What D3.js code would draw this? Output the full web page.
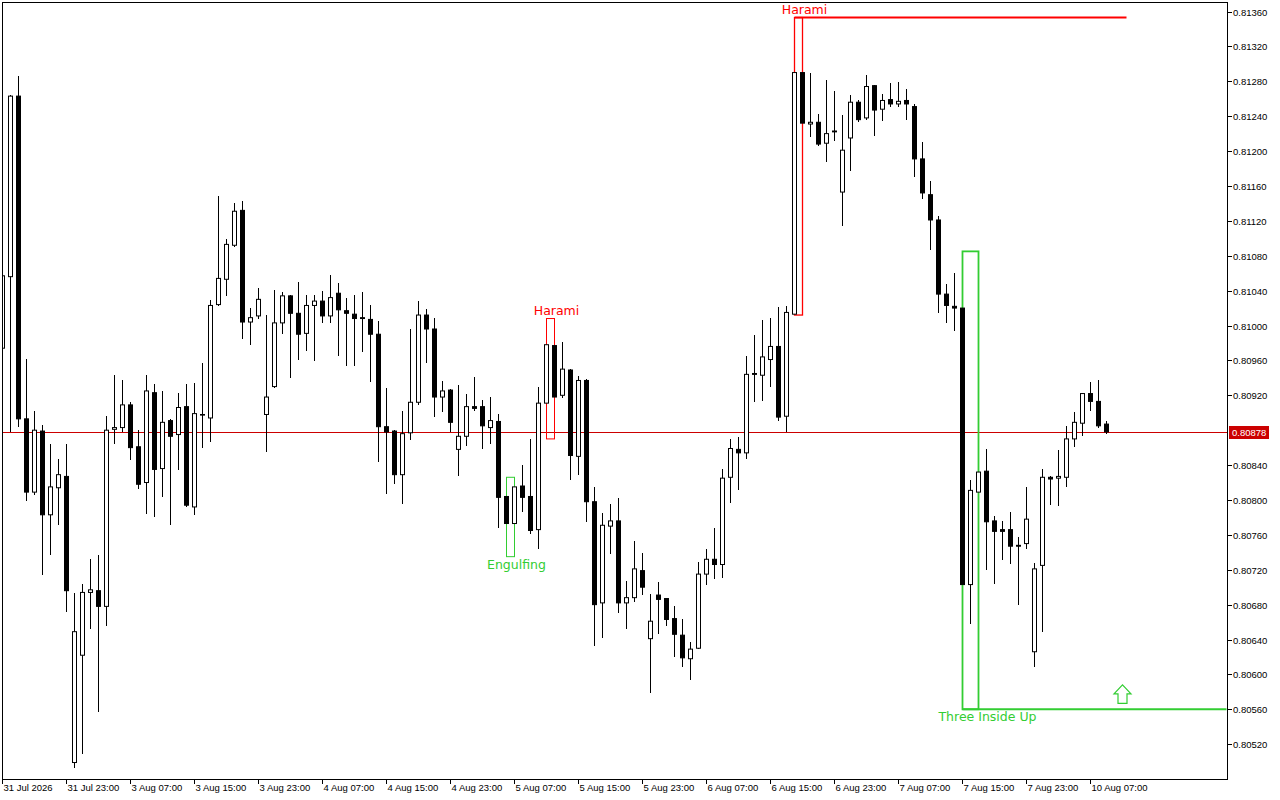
<!DOCTYPE html>
<html><head><meta charset="utf-8">
<script src="https://cdn.jsdelivr.net/npm/d3@7/dist/d3.min.js"></script>
<style>html,body{margin:0;padding:0;background:#fff;overflow:hidden}</style>
</head><body><svg id="c" width="1280" height="800"></svg>
<script>
// ---- data (hourly candles, 31 Jul 2026 15:00 .. 10 Aug 2026 09:00) ----
const openP = [0.80974,0.81056,0.81263,0.80893,0.80809,0.80879,0.80783,0.80814,0.80827,0.80499,
0.80622,0.80694,0.80696,0.80678,0.80881,0.80883,0.80909,0.80861,0.80820,0.80923,
0.80836,0.80891,0.80875,0.80907,0.80792,0.80898,0.80894,0.81024,0.81053,0.81092,
0.81132,0.81004,0.81011,0.80898,0.80930,0.81003,0.81034,0.81014,0.80991,0.81023,
0.81028,0.81011,0.81037,0.81017,0.81013,0.81009,0.81007,0.80990,0.80884,0.80879,
0.80829,0.80877,0.80912,0.81012,0.80996,0.80918,0.80926,0.80858,0.80873,0.80907,
0.80907,0.80883,0.80890,0.80804,0.80773,0.80816,0.80804,0.80766,0.80911,0.80977,
0.80920,0.80949,0.80850,0.80937,0.80798,0.80682,0.80770,0.80776,0.80682,0.80688,
0.80719,0.80641,0.80691,0.80687,0.80664,0.80645,0.80618,0.80630,0.80715,0.80732,
0.80726,0.80826,0.80858,0.80854,0.80945,0.80943,0.80961,0.80976,0.80896,0.81013,
0.81290,0.81231,0.81233,0.81209,0.81223,0.81153,0.81215,0.81256,0.81238,0.81275,
0.81248,0.81259,0.81254,0.81258,0.81251,0.81191,0.81150,0.81121,0.81036,0.81022,
0.81020,0.80703,0.80809,0.80833,0.80776,0.80766,0.80766,0.80748,0.80750,0.80626,
0.80725,0.80826,0.80825,0.80826,0.80870,0.80888,0.80922,0.80913,0.80887];
const highP = [0.81057,0.81264,0.81286,0.80962,0.80902,0.80886,0.80864,0.80847,0.80864,0.80693,
0.80704,0.80732,0.80737,0.80896,0.80943,0.80937,0.80912,0.80880,0.80943,0.80933,
0.80925,0.80893,0.80923,0.80933,0.80934,0.80957,0.81029,0.81149,0.81099,0.81140,
0.81143,0.81020,0.81043,0.81012,0.81041,0.81038,0.81035,0.81050,0.81035,0.81035,
0.81040,0.81058,0.81049,0.81032,0.81035,0.81038,0.81024,0.81005,0.80928,0.80880,
0.80902,0.80996,0.81028,0.81019,0.81009,0.80936,0.80927,0.80932,0.80921,0.80941,
0.80915,0.80918,0.80899,0.80805,0.80826,0.80840,0.80870,0.80930,0.81008,0.80989,
0.80981,0.80950,0.80942,0.80939,0.80815,0.80785,0.80795,0.80802,0.80707,0.80753,
0.80739,0.80692,0.80706,0.80688,0.80679,0.80663,0.80637,0.80729,0.80744,0.80768,
0.80836,0.80870,0.80872,0.80965,0.80989,0.81006,0.81009,0.81021,0.81022,0.81353,
0.81307,0.81290,0.81243,0.81281,0.81269,0.81241,0.81264,0.81258,0.81287,0.81276,
0.81265,0.81278,0.81279,0.81271,0.81254,0.81210,0.81166,0.81126,0.81048,0.81060,
0.81085,0.80823,0.80846,0.80858,0.80782,0.80776,0.80786,0.80758,0.80815,0.80728,
0.80836,0.80827,0.80857,0.80885,0.80901,0.80923,0.80935,0.80938,0.80891];
const lowP = [0.80974,0.80878,0.80884,0.80799,0.80806,0.80714,0.80737,0.80771,0.80672,0.80493,
0.80509,0.80652,0.80557,0.80655,0.80864,0.80878,0.80846,0.80812,0.80784,0.80780,
0.80803,0.80771,0.80834,0.80792,0.80783,0.80860,0.80867,0.81022,0.81034,0.81090,
0.80985,0.80978,0.81008,0.80855,0.80928,0.80990,0.80940,0.80960,0.80971,0.80959,
0.81003,0.81003,0.80965,0.80954,0.80954,0.80970,0.80935,0.80843,0.80807,0.80818,
0.80795,0.80869,0.80909,0.80957,0.80895,0.80901,0.80878,0.80827,0.80862,0.80902,
0.80858,0.80864,0.80768,0.80735,0.80748,0.80786,0.80761,0.80744,0.80870,0.80901,
0.80917,0.80823,0.80829,0.80775,0.80633,0.80642,0.80738,0.80670,0.80652,0.80683,
0.80691,0.80579,0.80646,0.80656,0.80620,0.80609,0.80594,0.80629,0.80703,0.80709,
0.80710,0.80796,0.80811,0.80847,0.80912,0.80914,0.80929,0.80891,0.80878,0.81012,
0.81211,0.81216,0.81206,0.81187,0.81211,0.81114,0.81177,0.81233,0.81236,0.81217,
0.81234,0.81250,0.81250,0.81236,0.81170,0.81145,0.81086,0.81014,0.81003,0.80994,
0.80560,0.80658,0.80706,0.80720,0.80704,0.80731,0.80727,0.80680,0.80744,0.80609,
0.80649,0.80794,0.80793,0.80815,0.80861,0.80873,0.80902,0.80883,0.80876];
const closeP = [0.81057,0.81263,0.80893,0.80809,0.80880,0.80783,0.80815,0.80829,0.80696,0.80649,
0.80694,0.80697,0.80678,0.80880,0.80883,0.80909,0.80860,0.80818,0.80925,0.80835,
0.80889,0.80873,0.80906,0.80794,0.80899,0.80898,0.81023,0.81054,0.81093,0.81131,
0.81004,0.81009,0.81030,0.80918,0.81003,0.81034,0.81014,0.80990,0.81023,0.81028,
0.81011,0.81032,0.81018,0.81014,0.81008,0.81008,0.80990,0.80884,0.80878,0.80829,
0.80876,0.80912,0.81012,0.80996,0.80918,0.80925,0.80889,0.80873,0.80907,0.80905,
0.80885,0.80891,0.80803,0.80773,0.80815,0.80803,0.80765,0.80911,0.80978,0.80918,
0.80950,0.80851,0.80937,0.80798,0.80680,0.80771,0.80776,0.80682,0.80688,0.80721,
0.80700,0.80661,0.80686,0.80663,0.80646,0.80619,0.80629,0.80715,0.80732,0.80726,
0.80825,0.80859,0.80854,0.80944,0.80944,0.80964,0.80976,0.80895,0.81015,0.81290,
0.81232,0.81233,0.81208,0.81220,0.81222,0.81201,0.81256,0.81236,0.81274,0.81247,
0.81258,0.81254,0.81257,0.81254,0.81191,0.81152,0.81121,0.81036,0.81023,0.81020,
0.80703,0.80811,0.80832,0.80775,0.80764,0.80764,0.80747,0.80747,0.80778,0.80721,
0.80826,0.80824,0.80827,0.80870,0.80889,0.80922,0.80913,0.80885,0.80878];

const xTickIndex = [0,8,16,24,32,40,48,56,64,72,80,88,96,104,112,120,128,136];
const xTickLabels = ["31 Jul 2026","31 Jul 23:00","3 Aug 07:00","3 Aug 15:00","3 Aug 23:00",
 "4 Aug 07:00","4 Aug 15:00","4 Aug 23:00","5 Aug 07:00","5 Aug 15:00","5 Aug 23:00",
 "6 Aug 07:00","6 Aug 15:00","6 Aug 23:00","7 Aug 07:00","7 Aug 15:00","7 Aug 23:00","10 Aug 07:00"];
const yTickValues = [0.81360,0.81320,0.81280,0.81240,0.81200,0.81160,0.81120,0.81080,0.81040,
 0.81000,0.80960,0.80920,0.80840,0.80800,0.80760,0.80720,0.80680,0.80640,0.80600,0.80560,0.80520];
const lastPrice = 0.80878;

const patternNames = ["Engulfing","Harami","Harami","Three Inside Up"];
const patternStart = [63,68,99,120];
const patternEnd   = [64,69,100,122];
const patternBull  = [true,false,false,true];
const levelEndIndex = [null,null,140.5,153];
const signalIndex = 140;   // up-arrow after Three Inside Up

// ---- layout / style ----
const W = 1280, H = 800;
const plot = {l:2, t:2, r:1227, b:779};
const RED = "#ff0000", GREEN = "#32cd32", PRICE_RED = "#cc0000";
const labelDx = [2,2,2,9];
const lineW = [1,1,1.3,1.8];

const x = d3.scaleLinear().domain([0,138]).range([2.5, 2.5+8*138]);
const y = d3.scaleLinear().domain([0.80520,0.81360]).range([744.2,11.5]);

const svg = d3.select("#c");
svg.append("rect").attr("width",W).attr("height",H).attr("fill","#fff");
svg.append("clipPath").attr("id","clip").append("rect")
  .attr("x",plot.l+1).attr("y",plot.t+1).attr("width",plot.r-plot.l-1).attr("height",plot.b-plot.t-1);
const g = svg.append("g").attr("clip-path","url(#clip)");

// current price line
g.append("line").attr("x1",plot.l).attr("x2",plot.r)
  .attr("y1",Math.round(y(lastPrice))+0.5).attr("y2",Math.round(y(lastPrice))+0.5)
  .attr("stroke",PRICE_RED).attr("stroke-width",1);

const idx = d3.range(openP.length);
// wicks
g.append("g").selectAll("line").data(idx).join("line")
  .attr("x1",i=>x(i)).attr("x2",i=>x(i))
  .attr("y1",i=>y(highP[i])).attr("y2",i=>y(lowP[i]))
  .attr("stroke","#000").attr("stroke-width",1).attr("shape-rendering","crispEdges");

// pattern rectangles
const pg = g.append("g");
patternNames.forEach((name,p)=>{
  const a = patternStart[p], b = patternEnd[p];
  const hi = d3.max(d3.range(a,b+1),i=>highP[i]);
  const lo = d3.min(d3.range(a,b+1),i=>lowP[i]);
  const col = patternBull[p] ? GREEN : RED;
  pg.append("rect").attr("x",x(a)).attr("y",y(hi)).attr("width",x(b)-x(a)).attr("height",y(lo)-y(hi))
    .attr("fill","none").attr("stroke",col).attr("stroke-width",lineW[p]);
  if (levelEndIndex[p] !== null) {
    const lv = patternBull[p] ? lo : hi;
    pg.append("line").attr("x1",x(a)).attr("x2",x(levelEndIndex[p]))
      .attr("y1",y(lv)).attr("y2",y(lv)).attr("stroke",col).attr("stroke-width",2);
  }
});

// bodies
g.append("g").selectAll("rect").data(idx).join("rect")
  .attr("x",i=>x(i)-2).attr("width",4)
  .attr("y",i=>y(Math.max(openP[i],closeP[i])))
  .attr("height",i=>Math.max(0.6, Math.abs(y(openP[i])-y(closeP[i]))))
  .attr("fill",i=>closeP[i]>openP[i] ? "#fff" : "#000")
  .attr("stroke","#000").attr("stroke-width",1);

// pattern labels
patternNames.forEach((name,p)=>{
  const a = patternStart[p], b = patternEnd[p];
  const hi = d3.max(d3.range(a,b+1),i=>highP[i]);
  const lo = d3.min(d3.range(a,b+1),i=>lowP[i]);
  const bull = patternBull[p];
  g.append("text").attr("x",x(b)+labelDx[p])
    .attr("y", bull ? y(lo)+12 : y(hi)-3.5)
    .attr("text-anchor","middle")
    .attr("font-family","DejaVu Sans, sans-serif").attr("font-size",12.5)
    .attr("fill", bull ? GREEN : RED).text(name);
});

// signal arrow
{
  const p = 3;
  const lo = d3.min(d3.range(patternStart[p],patternEnd[p]+1),i=>lowP[i]);
  const cx = x(signalIndex), by = y(lo)-6;
  const path = d3.path();
  path.moveTo(cx-4.5,by); path.lineTo(cx+4.5,by); path.lineTo(cx+4.5,by-9.5);
  path.lineTo(cx+8.5,by-9.5); path.lineTo(cx,by-18.5); path.lineTo(cx-8.5,by-9.5);
  path.lineTo(cx-4.5,by-9.5); path.closePath();
  g.append("path").attr("d",path.toString()).attr("fill","#fff")
    .attr("stroke",GREEN).attr("stroke-width",1.2);
}

// frame
svg.append("rect").attr("x",plot.l+0.5).attr("y",plot.t+0.5)
  .attr("width",plot.r-plot.l).attr("height",plot.b-plot.t)
  .attr("fill","none").attr("stroke","#000").attr("stroke-width",1);

// y axis
const ya = svg.append("g");
yTickValues.forEach(v=>{
  const yy = Math.round(y(v))+0.5;
  ya.append("line").attr("x1",plot.r+0.5).attr("x2",plot.r+5).attr("y1",yy).attr("y2",yy)
    .attr("stroke","#000");
  ya.append("text").attr("x",plot.r+6).attr("y",yy+3.5)
    .attr("font-family","Liberation Sans, Arial, sans-serif").attr("font-size",9.5)
    .attr("fill","#000").text(d3.format(".5f")(v));
});
// price box
{
  const yy = Math.round(y(lastPrice))+0.5;
  ya.append("rect").attr("x",plot.r+2).attr("y",yy-6.5).attr("width",40).attr("height",13)
    .attr("fill",PRICE_RED);
  ya.append("text").attr("x",plot.r+5).attr("y",yy+3.5)
    .attr("font-family","Liberation Sans, Arial, sans-serif").attr("font-size",9.5)
    .attr("fill","#fff").text(d3.format(".5f")(lastPrice));
}

// x axis
const xa = svg.append("g");
xTickIndex.forEach((k,j)=>{
  const xx = Math.round(x(k)-0.5)+0.5;
  xa.append("line").attr("x1",xx).attr("x2",xx).attr("y1",plot.b+0.5).attr("y2",plot.b+5)
    .attr("stroke","#000");
  xa.append("text").attr("x",xx+1).attr("y",791)
    .attr("font-family","Liberation Sans, Arial, sans-serif").attr("font-size",9.5)
    .attr("fill","#000").text(xTickLabels[j]);
});
</script></body></html>
